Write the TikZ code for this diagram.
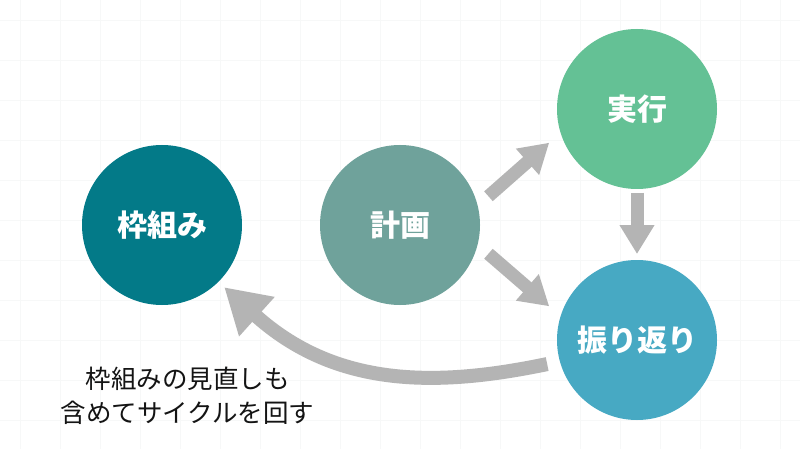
\documentclass[tikz,border=0pt]{standalone}
\usepackage{fontspec}
\setmainfont{Noto Sans CJK JP}
\usetikzlibrary{arrows.meta,calc}
\definecolor{cFrame}{HTML}{037A88}
\definecolor{cPlan}{HTML}{6FA29B}
\definecolor{cExec}{HTML}{64C195}
\definecolor{cRev}{HTML}{47A9C3}
\definecolor{cArrow}{HTML}{B4B4B4}
\definecolor{cGrid}{HTML}{F7F8F8}
\definecolor{cText}{HTML}{141414}
\tikzset{
  circ/.style={circle, minimum size=160pt, inner sep=0pt, text=white,
    font=\bfseries\fontsize{30}{36}\selectfont},
  arr/.style={line width=13pt, draw=cArrow, -{Triangle[length=29pt,width=33pt]}},
  bigarr/.style={line width=14pt, draw=cArrow, -{Triangle[length=44pt,width=50pt]}},
  gridline/.style={draw=cGrid, line width=0.6pt},
  note/.style={align=center, text=cText, font=\fontsize{25.5}{34}\selectfont}
}
\begin{document}
\begin{tikzpicture}[x=1pt,y=-1pt]
\useasboundingbox (0,0) rectangle (800,449);
\fill[white] (0,0) rectangle (800,449);
\foreach \gx in {20,60,...,780} \draw[gridline] (\gx,0) -- (\gx,449);
\foreach \gy in {20,60,...,440} \draw[gridline] (0,\gy) -- (800,\gy);

\node[circ, fill=cFrame] (frame) at (162,225) {枠組み};
\node[circ, fill=cPlan] (plan) at (400,225) {計画};
\node[circ, fill=cExec] (exec) at (637,109) {実行};
\node[circ, fill=cRev] (rev) at (637,340) {振り返り};

\draw[arr] ($(plan.center)!93pt!(plan.18)$) -- ($(exec.center)!94pt!(exec.201)$);
\draw[arr] ($(plan.center)!93pt!(plan.-18)$) -- ($(rev.center)!94pt!(rev.159)$);
\draw[arr] ($(exec.center)!84pt!(exec.-90)$) -- ($(rev.center)!86pt!(rev.90)$);
\draw[bigarr] ($(rev.center)!93pt!(rev.195)$) .. controls (437,387) and (336,388) .. ($(frame.center)!88pt!(frame.-45)$);

\node[note] (caption) at (187.5,396) {枠組みの見直しも\\含めてサイクルを回す};
\end{tikzpicture}
\end{document}
